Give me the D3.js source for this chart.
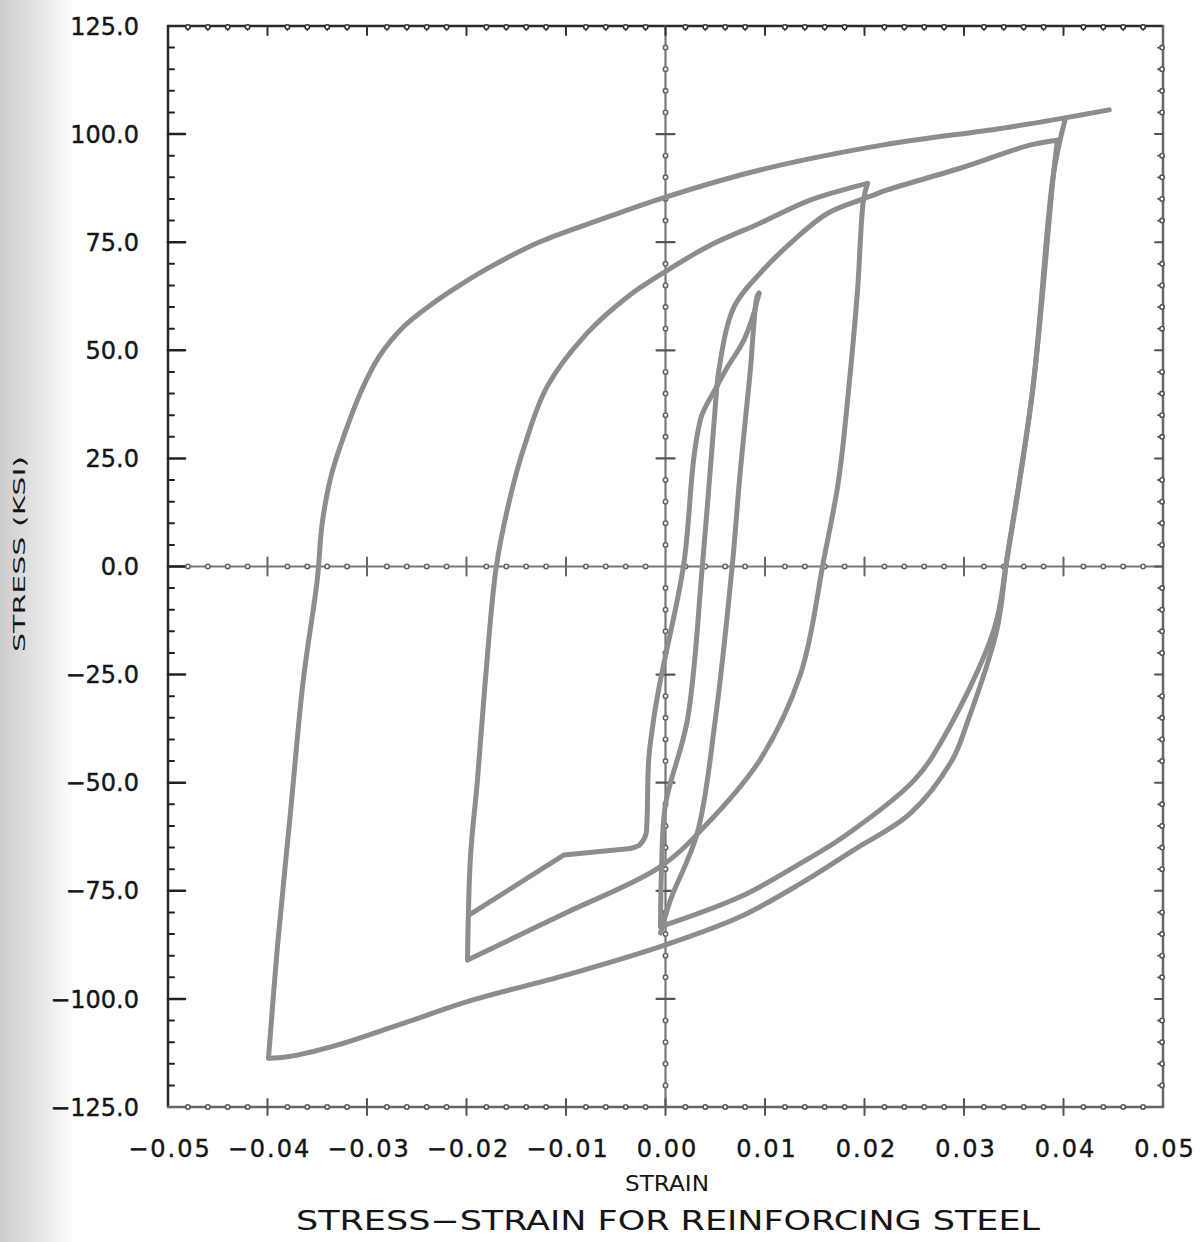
<!DOCTYPE html>
<html>
<head>
<meta charset="utf-8">
<script src="https://cdnjs.cloudflare.com/ajax/libs/d3/7.8.5/d3.min.js"></script>
<style>
  body { margin: 0; background: #fff; }
  svg { display: block; }
  text { font-family: "DejaVu Sans", sans-serif; fill: #151515; }
</style>
</head>
<body>
<svg id="chart" width="1202" height="1242"></svg>
<script>
// tick values
const xTicks = [-0.05, -0.04, -0.03, -0.02, -0.01, 0, 0.01, 0.02, 0.03, 0.04, 0.05];
const yTicks = [-125, -100, -75, -50, -25, 0, 25, 50, 75, 100, 125];

// branches of the hysteresis curve, [strain, stress (ksi)]
const firstComp = [[0.0094, 63.2], [0.0088, 58], [0.0078, 52], [0.0062, 46], [0.005, 41], [0.0035, 33.9],
  [0.0018, 0], [-0.0012, -35.5], [-0.0017, -45], [-0.0019, -61], [-0.0026, -64.4], [-0.0035, -65.2]];
const compPlateau = [[-0.0035, -65.2], [-0.0102, -66.7], [-0.0196, -80.4]];
const smallUnload = [[0.0094, 63.2], [0.0092, 62.4], [0.0085, 44.7], [0.0075, 21.6], [0.0067, 0],
  [0.005, -35.5], [0.0032, -61.6], [0.0005, -77.1], [-0.0005, -84.8]];
const medUnload = [[0.0203, 88.6], [0.0199, 84.8], [0.0193, 63.9], [0.0184, 40.8], [0.0174, 20],
  [0.0159, 1.5], [0.0136, -24.7], [0.0095, -44.7], [0.0039, -60.2], [-0.0005, -69.4],
  [-0.0102, -80.3], [-0.0199, -91]];
const medReload = [[-0.0199, -91], [-0.0196, -67.1], [-0.0189, -49.4], [-0.0181, -26.2],
  [-0.017, 0], [-0.0156, 16.1], [-0.0142, 27.7], [-0.0119, 41.6], [-0.0079, 53.9], [-0.0038, 62.4],
  [-0.0003, 67.8], [0.0045, 74.3], [0.0095, 79.4], [0.0146, 84.8], [0.0203, 88.6]];
const cycReload = [[-0.0005, -83.3], [-0.0004, -70], [0, -55], [0.0022, -35.5], [0.0037, 0],
  [0.0049, 33.9], [0.0054, 46], [0.0069, 60.1], [0.0095, 67.8], [0.0129, 75.5], [0.0163, 81.7],
  [0.0196, 84.8], [0.0209, 85.9], [0.0223, 87.1], [0.0296, 92.1], [0.0367, 97.5], [0.0394, 98.6]];
const cycUnload = [[0.0394, 98.6], [0.039, 90.9], [0.0369, 40.8], [0.0343, 1.5], [0.033, -14.7],
  [0.028, -39.4], [0.025, -49.4], [0.0179, -62.5], [0.0136, -68.6], [0.0075, -76.4], [-0.0005, -83.3]];
const bigUnload = [[0.0402, 103.7], [0.039, 90.9], [0.0369, 40.8], [0.0343, 1.5], [0.0333, -14.7],
  [0.0303, -36.3], [0.0288, -44.8], [0.0246, -57.1], [0.0189, -65.6], [0.0136, -73.3], [0.0075, -81],
  [0, -87.5], [-0.01, -94.5], [-0.0196, -100.4], [-0.0263, -105.6], [-0.033, -110.7],
  [-0.038, -113.4], [-0.0399, -113.7]];
const bigReload = [[-0.0399, -113.7], [-0.039, -87.9], [-0.0377, -57.1], [-0.0364, -26.2], [-0.035, -3.1],
  [-0.0345, 10], [-0.0336, 21], [-0.0322, 31], [-0.0305, 41], [-0.0288, 48.5], [-0.0263, 55.5],
  [-0.0236, 60.5], [-0.0205, 65.3], [-0.0176, 69.3], [-0.0126, 75.1], [-0.0062, 80.5], [-0.0003, 85.2],
  [0.0095, 91.7], [0.0219, 97.5], [0.0337, 101.3], [0.04, 103.7], [0.0446, 105.6]];

const smoothBranches = [smallUnload, medUnload, medReload, cycReload, cycUnload, bigUnload, bigReload];
const monoBranches = [firstComp];
const straightBranches = [compPlateau];

const svg = d3.select('#chart');
const x = d3.scaleLinear().domain([-0.05, 0.05]).range([168, 1163]);
const y = d3.scaleLinear().domain([-125, 125]).range([1107, 26]);

// scanned page edge on the left
const grad = svg.append('defs').append('linearGradient').attr('id', 'edge');
grad.append('stop').attr('offset', '0%').attr('stop-color', '#cdcdcd');
grad.append('stop').attr('offset', '60%').attr('stop-color', '#e9e9e9');
grad.append('stop').attr('offset', '100%').attr('stop-color', '#ffffff');
svg.append('rect').attr('x', 0).attr('y', 0).attr('width', 75).attr('height', 1242).attr('fill', 'url(#edge)');

const minorX = x.ticks(50).filter(v => !xTicks.some(t => Math.abs(t - v) < 1e-9));
const minorY = y.ticks(50).filter(v => !yTicks.some(t => Math.abs(t - v) < 1e-9));

const axes = svg.append('g').attr('stroke-linecap', 'round');

// frame
axes.append('line').attr('x1', x(-0.05)).attr('x2', x(-0.05)).attr('y1', y(125)).attr('y2', y(-125))
  .attr('stroke', '#2a2a2a').attr('stroke-width', 2.5);
axes.append('line').attr('x1', x(-0.05)).attr('x2', x(0.05)).attr('y1', y(125)).attr('y2', y(125))
  .attr('stroke', '#2a2a2a').attr('stroke-width', 2.5);
axes.append('line').attr('x1', x(-0.05)).attr('x2', x(0.05)).attr('y1', y(-125)).attr('y2', y(-125))
  .attr('stroke', '#666').attr('stroke-width', 2.5);
axes.append('line').attr('x1', x(0.05)).attr('x2', x(0.05)).attr('y1', y(125)).attr('y2', y(-125))
  .attr('stroke', '#666').attr('stroke-width', 2.5);
// zero axes
axes.append('line').attr('x1', x(0)).attr('x2', x(0)).attr('y1', y(125)).attr('y2', y(-125))
  .attr('stroke', '#777').attr('stroke-width', 2.2);
axes.append('line').attr('x1', x(-0.05)).attr('x2', x(0.05)).attr('y1', y(0)).attr('y2', y(0))
  .attr('stroke', '#777').attr('stroke-width', 2.2);

// major ticks
const inner = yTicks.filter(t => Math.abs(t) < 125);
const innerX = xTicks.filter(t => Math.abs(t) < 0.05);
axes.selectAll('.ly').data(inner).join('line')
  .attr('x1', x(-0.05)).attr('x2', x(-0.05) + 17).attr('y1', d => y(d)).attr('y2', d => y(d))
  .attr('stroke', '#222').attr('stroke-width', 2.5);
axes.selectAll('.ry').data(inner).join('line')
  .attr('x1', x(0.05) - 8).attr('x2', x(0.05)).attr('y1', d => y(d)).attr('y2', d => y(d))
  .attr('stroke', '#555').attr('stroke-width', 2);
axes.selectAll('.tx').data(innerX).join('line')
  .attr('x1', d => x(d)).attr('x2', d => x(d)).attr('y1', y(125)).attr('y2', y(125) + 9)
  .attr('stroke', '#333').attr('stroke-width', 2);
axes.selectAll('.bx').data(innerX).join('line')
  .attr('x1', d => x(d)).attr('x2', d => x(d)).attr('y1', y(-125) - 8).attr('y2', y(-125) + 8)
  .attr('stroke', '#555').attr('stroke-width', 2);
axes.selectAll('.zx').data(innerX.filter(d => d !== 0)).join('line')
  .attr('x1', d => x(d)).attr('x2', d => x(d)).attr('y1', y(0) - 9).attr('y2', y(0) + 9)
  .attr('stroke', '#666').attr('stroke-width', 2);
axes.selectAll('.zy').data(inner.filter(d => d !== 0)).join('line')
  .attr('x1', x(0) - 9).attr('x2', x(0) + 9).attr('y1', d => y(d)).attr('y2', d => y(d))
  .attr('stroke', '#555').attr('stroke-width', 2.2);

// minor ticks with little dots
function dots(cls, data, cx, cy, col) {
  axes.selectAll('.' + cls).data(data).join('circle')
    .attr('cx', cx).attr('cy', cy).attr('r', 2.2)
    .attr('fill', '#fff').attr('stroke', col).attr('stroke-width', 1.6);
}
axes.selectAll('.mly').data(minorY).join('line')
  .attr('x1', x(-0.05)).attr('x2', x(-0.05) + 6).attr('y1', d => y(d)).attr('y2', d => y(d))
  .attr('stroke', '#222').attr('stroke-width', 2);
axes.selectAll('.mry').data(minorY).join('line')
  .attr('x1', x(0.05) - 5).attr('x2', x(0.05)).attr('y1', d => y(d)).attr('y2', d => y(d))
  .attr('stroke', '#555').attr('stroke-width', 1.8);
axes.selectAll('.mtx').data(minorX).join('line')
  .attr('x1', d => x(d)).attr('x2', d => x(d)).attr('y1', y(125)).attr('y2', y(125) + 4)
  .attr('stroke', '#333').attr('stroke-width', 1.8);
dots('dtx', minorX, d => x(d), y(125) + 1, '#333');
dots('dbx', minorX, d => x(d), y(-125), '#555');
dots('dzx', minorX, d => x(d), y(0), '#666');
dots('dzy', minorY, x(0), d => y(d), '#666');
dots('dry', minorY, x(0.05) - 1, d => y(d), '#555');

// curves
const smooth = d3.line().x(d => x(d[0])).y(d => y(d[1])).curve(d3.curveCatmullRom.alpha(0.5));
const mono = d3.line().x(d => x(d[0])).y(d => y(d[1])).curve(d3.curveMonotoneY);
const straight = d3.line().x(d => x(d[0])).y(d => y(d[1]));
const curves = svg.append('g')
  .attr('fill', 'none')
  .attr('stroke', '#8d8d8d')
  .attr('stroke-width', 5)
  .attr('stroke-linejoin', 'round')
  .attr('stroke-linecap', 'round');
curves.selectAll('.sm').data(smoothBranches).join('path').attr('class', 'sm').attr('d', smooth);
curves.selectAll('.mo').data(monoBranches).join('path').attr('class', 'mo').attr('d', mono);
curves.selectAll('.st').data(straightBranches).join('path').attr('class', 'st').attr('d', straight);

// tick labels
const fy = d3.format('.1f');
const fx = d3.format('.2f');
svg.append('g').selectAll('text').data(yTicks).join('text')
  .attr('x', 139).attr('y', d => y(d)).attr('dy', '0.36em')
  .attr('text-anchor', 'end').attr('font-size', 24)
  .attr('stroke', '#151515').attr('stroke-width', 0.4)
  .text(d => fy(d));
svg.append('g').selectAll('text').data(xTicks).join('text')
  .attr('x', d => x(d) + 2).attr('y', 1157)
  .attr('text-anchor', 'middle').attr('font-size', 24).attr('letter-spacing', 2)
  .attr('stroke', '#151515').attr('stroke-width', 0.4)
  .text(d => fx(d));

// axis titles
svg.append('text').attr('x', 667).attr('y', 1191).attr('text-anchor', 'middle')
  .attr('font-size', 22).attr('textLength', 84).attr('lengthAdjust', 'spacingAndGlyphs')
  .text('STRAIN');
svg.append('text').attr('x', 668).attr('y', 1230).attr('text-anchor', 'middle')
  .attr('font-size', 27).attr('textLength', 744).attr('lengthAdjust', 'spacingAndGlyphs')
  .text('STRESS\u2212STRAIN FOR REINFORCING STEEL');
svg.append('text').attr('transform', 'translate(25,554) rotate(-90)').attr('text-anchor', 'middle')
  .attr('font-size', 16).attr('textLength', 196).attr('lengthAdjust', 'spacingAndGlyphs')
  .attr('fill', '#444')
  .text('STRESS (KSI)');
</script>
</body>
</html>
